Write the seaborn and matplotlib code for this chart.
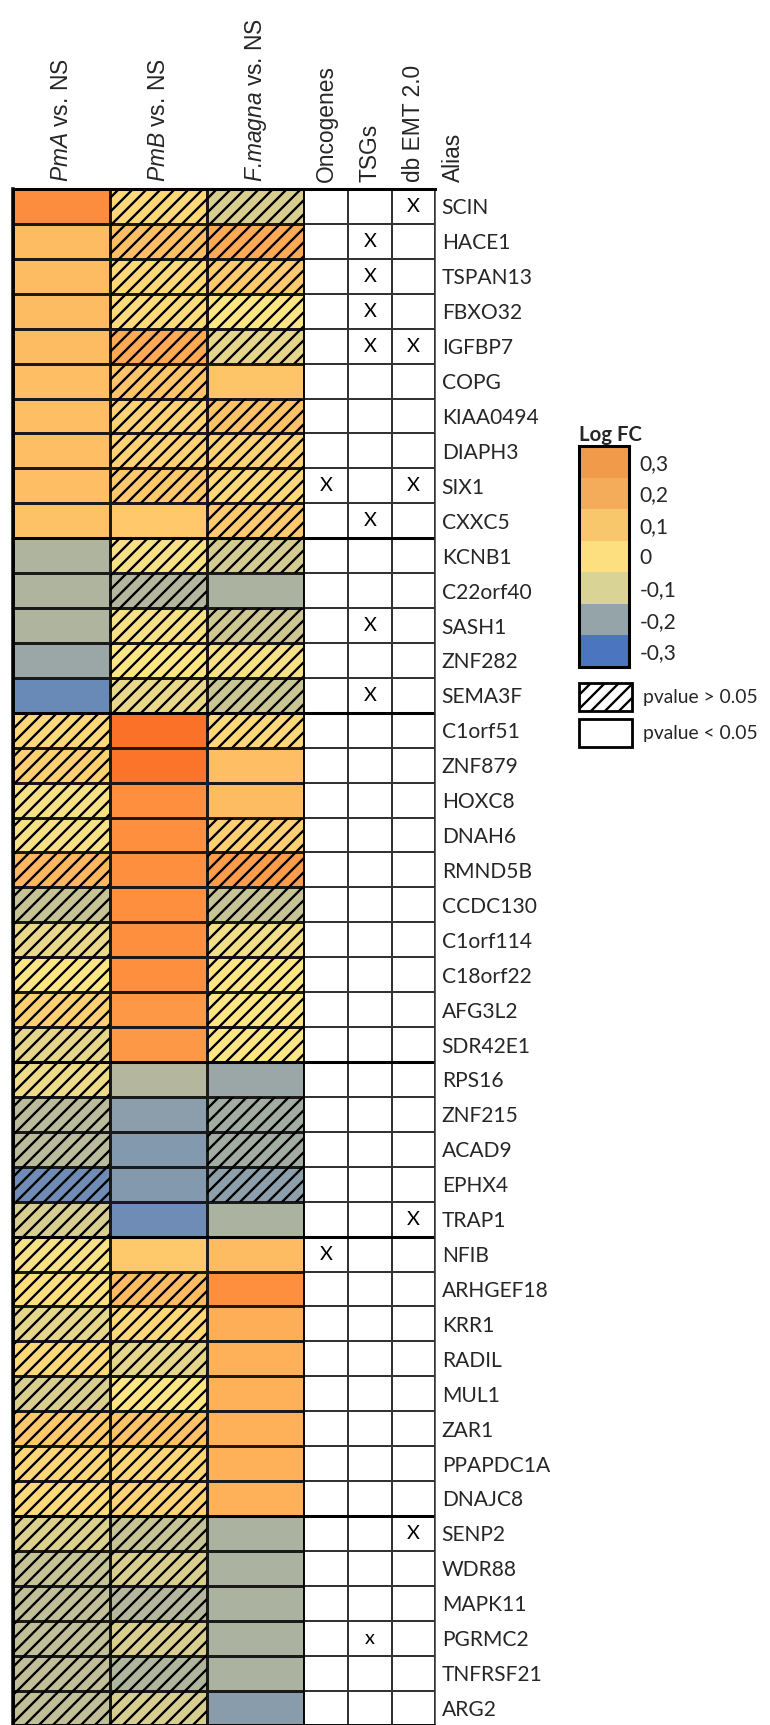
import numpy as np
import pandas as pd
import matplotlib
matplotlib.use('Agg')
import matplotlib.pyplot as plt
import seaborn as sns
from matplotlib.colors import LinearSegmentedColormap, ListedColormap
from matplotlib.patches import Rectangle, Patch

sns.set_style('white')
plt.rcParams['font.family'] = ['Lato', 'DejaVu Sans']
plt.rcParams['mathtext.fontset'] = 'custom'
plt.rcParams['mathtext.rm'] = 'Liberation Sans'
plt.rcParams['mathtext.it'] = 'Liberation Sans:italic'
plt.rcParams['hatch.linewidth'] = 2.0

genes = ['SCIN', 'HACE1', 'TSPAN13', 'FBXO32', 'IGFBP7', 'COPG', 'KIAA0494', 'DIAPH3', 'SIX1', 'CXXC5',
         'KCNB1', 'C22orf40', 'SASH1', 'ZNF282', 'SEMA3F',
         'C1orf51', 'ZNF879', 'HOXC8', 'DNAH6', 'RMND5B', 'CCDC130', 'C1orf114', 'C18orf22', 'AFG3L2', 'SDR42E1',
         'RPS16', 'ZNF215', 'ACAD9', 'EPHX4', 'TRAP1',
         'NFIB', 'ARHGEF18', 'KRR1', 'RADIL', 'MUL1', 'ZAR1', 'PPAPDC1A', 'DNAJC8',
         'SENP2', 'WDR88', 'MAPK11', 'PGRMC2', 'TNFRSF21', 'ARG2']

# log fold change
pma = [0.32, 0.15, 0.15, 0.15, 0.15, 0.14, 0.14, 0.14, 0.14, 0.13,
       -0.13, -0.13, -0.13, -0.16, -0.24,
       0.05, 0.08, -0.01, -0.01, 0.17, -0.09, -0.035, 0.0, 0.08, -0.04,
       -0.03, -0.11, -0.11, -0.23, -0.065,
       -0.01, 0.03, -0.04, 0.05, -0.06, 0.11, 0.06, 0.045,
       -0.055, -0.09, -0.10, -0.10, -0.10, -0.10]
pmb = [0.05, 0.14, 0.05, 0.04, 0.22, 0.12, 0.07, 0.07, 0.11, 0.11,
       -0.01, -0.12, -0.01, 0.0, -0.035,
       0.42, 0.41, 0.31, 0.31, 0.31, 0.31, 0.31, 0.31, 0.28, 0.28,
       -0.12, -0.185, -0.2, -0.2, -0.23,
       0.105, 0.15, 0.05, -0.04, 0.0, 0.13, 0.06, 0.07,
       -0.09, -0.06, -0.12, -0.06, -0.125, -0.065]
fmag = [-0.06, 0.22, 0.1, 0.0, -0.04, 0.12, 0.13, 0.07, 0.05, 0.1,
        -0.07, -0.135, -0.08, -0.01, -0.085,
        0.05, 0.14, 0.15, 0.08, 0.26, -0.09, -0.02, 0.0, 0.0, 0.0,
        -0.16, -0.15, -0.15, -0.18, -0.135,
        0.15, 0.31, 0.2, 0.19, 0.19, 0.19, 0.19, 0.19,
        -0.135, -0.135, -0.135, -0.135, -0.135, -0.19]

# 1 = pvalue > 0.05 (hatched)
pma_ns = [0, 0, 0, 0, 0, 0, 0, 0, 0, 0, 0, 0, 0, 0, 0,
          1, 1, 1, 1, 1, 1, 1, 1, 1, 1, 1, 1, 1, 1, 1,
          1, 1, 1, 1, 1, 1, 1, 1, 1, 1, 1, 1, 1, 1]
pmb_ns = [1, 1, 1, 1, 1, 1, 1, 1, 1, 0, 1, 1, 1, 1, 1,
          0, 0, 0, 0, 0, 0, 0, 0, 0, 0, 0, 0, 0, 0, 0,
          0, 1, 1, 1, 1, 1, 1, 1, 1, 1, 1, 1, 1, 1]
fmag_ns = [1, 1, 1, 1, 1, 0, 1, 1, 1, 1, 1, 0, 1, 1, 1,
           1, 0, 0, 1, 1, 1, 1, 1, 1, 1, 0, 1, 1, 1, 0,
           0, 0, 0, 0, 0, 0, 0, 0, 0, 0, 0, 0, 0, 0]

onco = ['', '', '', '', '', '', '', '', 'X', '', '', '', '', '', '',
        '', '', '', '', '', '', '', '', '', '', '', '', '', '', '',
        'X', '', '', '', '', '', '', '', '', '', '', '', '', '']
tsg = ['', 'X', 'X', 'X', 'X', '', '', '', '', 'X', '', '', 'X', '', 'X',
       '', '', '', '', '', '', '', '', '', '', '', '', '', '', '',
       '', '', '', '', '', '', '', '', '', '', '', 'x', '', '']
emt = ['X', '', '', '', 'X', '', '', '', 'X', '', '', '', '', '', '',
       '', '', '', '', '', '', '', '', '', '', '', '', '', '', 'X',
       '', '', '', '', '', '', '', '', 'X', '', '', '', '', '']

group_ends = [10, 15, 25, 30, 38]

fc_cols = [r'$\mathit{PmA}$ vs. NS', r'$\mathit{PmB}$ vs. NS',
           r'$\mathit{F}$.$\mathit{magna}$ vs. NS']
mark_cols = ['Oncogenes', 'TSGs', 'db EMT 2.0']

legend_levels = [0.3, 0.2, 0.1, 0.0, -0.1, -0.2, -0.3]
legend_labels = ['0,3', '0,2', '0,1', '0', '-0,1', '-0,2', '-0,3']
legend_colors = ['#F09A4A', '#F4AC5A', '#F8C76C', '#FDDF80', '#D9D396', '#95A4A8', '#4C75C0']

fc_df = pd.DataFrame({fc_cols[0]: pma, fc_cols[1]: pmb, fc_cols[2]: fmag}, index=genes)
ns_df = pd.DataFrame({fc_cols[0]: pma_ns, fc_cols[1]: pmb_ns, fc_cols[2]: fmag_ns}, index=genes)
mark_df = pd.DataFrame({mark_cols[0]: onco, mark_cols[1]: tsg, mark_cols[2]: emt}, index=genes)

fc_cmap = LinearSegmentedColormap.from_list(
    'logfc', [(0.0, '#4472C4'), (0.4, '#FFE682'), (1.0, '#FC6922')])

W, H, DPI = 770, 1725, 84
ROW = 34.92
TOP = 189


def px_box(x0, y0, x1, y1):
    return [x0 / W, 1 - y1 / H, (x1 - x0) / W, (y1 - y0) / H]


fig = plt.figure(figsize=(W / DPI, H / DPI), dpi=DPI)
grid_bottom = TOP + ROW * len(genes)
ax1 = fig.add_axes(px_box(13, TOP, 304.3, grid_bottom))
ax2 = fig.add_axes(px_box(304.3, TOP, 435.3, grid_bottom))

sns.heatmap(fc_df, ax=ax1, cmap=fc_cmap, vmin=-0.3, vmax=0.45, cbar=False,
            linewidths=1.0, linecolor='#1a1a1a', xticklabels=fc_cols, yticklabels=False)

for i, j in np.argwhere(ns_df.values == 1):
    ax1.add_patch(Rectangle((j, i), 1, 1, fill=False, hatch='//',
                            edgecolor='black', linewidth=0))

sns.heatmap(np.zeros(mark_df.shape), ax=ax2, cmap=ListedColormap(['white']),
            annot=mark_df.values, fmt='', cbar=False,
            annot_kws={'fontsize': 17, 'color': 'black'},
            linewidths=1.3, linecolor='#333333',
            xticklabels=mark_cols, yticklabels=genes)

for ax in [ax1, ax2]:
    ax.xaxis.tick_top()
    ax.tick_params(axis='x', length=0, pad=6, labelrotation=90, labelsize=19.5)
    for t in ax.get_xticklabels():
        t.set_fontfamily('Liberation Sans')
    for b in group_ends:
        ax.axhline(b, color='black', lw=2.6)
    for s in ax.spines.values():
        s.set_visible(True)
        s.set_color('black')
        s.set_linewidth(1.3)
    ax.spines['top'].set_linewidth(2.6)

ax1.spines['left'].set_linewidth(3)
ax2.spines['right'].set_color('#333333')

ax2.yaxis.tick_right()
ax2.tick_params(axis='y', length=0, pad=5.5, labelsize=18, labelrotation=0)
ax2.text(3.41, -0.2, 'Alias', rotation=90, ha='center', va='bottom',
         fontsize=19.5, family='Liberation Sans')

# Log FC key
axl = fig.add_axes(px_box(579, 446, 629, 667))
sns.heatmap(np.array(legend_levels).reshape(-1, 1), ax=axl,
            cmap=ListedColormap(legend_colors[::-1]), vmin=-0.35, vmax=0.35,
            cbar=False, xticklabels=False, yticklabels=legend_labels)
axl.yaxis.tick_right()
axl.tick_params(axis='y', length=0, pad=9, labelsize=18, labelrotation=0)
for s in axl.spines.values():
    s.set_visible(True)
    s.set_linewidth(2.6)
    s.set_color('black')
axl.set_title('Log FC', loc='left', fontweight='bold', fontsize=17.5, pad=4)

handles = [Patch(facecolor='white', edgecolor='black', hatch='//', lw=2.4),
           Patch(facecolor='white', edgecolor='black', lw=2.4)]
fig.legend(handles=handles, labels=['pvalue > 0.05', 'pvalue < 0.05'],
           loc='upper left', bbox_to_anchor=(579 / W, 1 - 683 / H),
           frameon=False, borderpad=0, borderaxespad=0, fontsize=16.5,
           handlelength=2.75, handleheight=1.85, handletextpad=0.55,
           labelspacing=0.42)

fig.savefig('out.png', dpi=DPI)
